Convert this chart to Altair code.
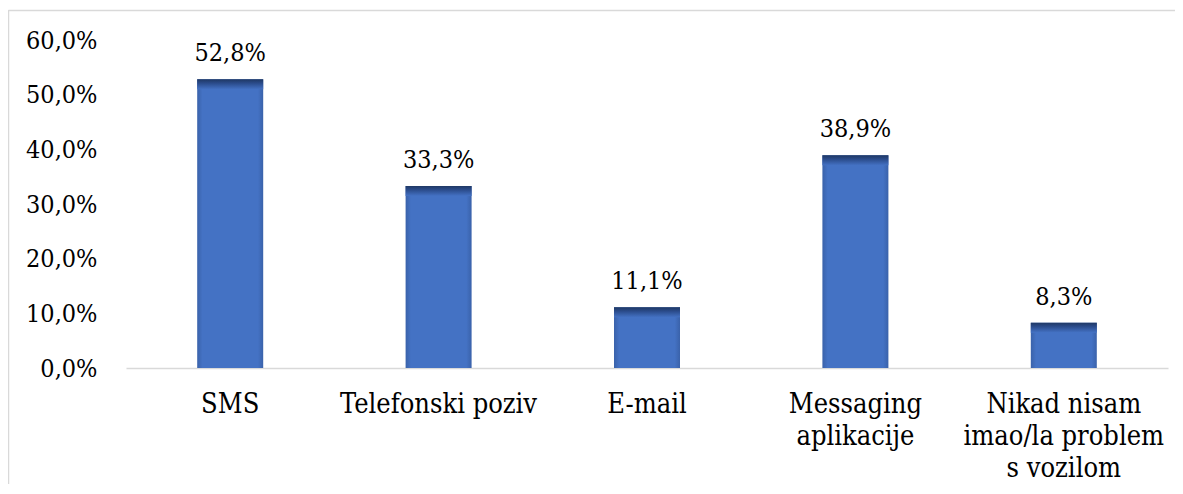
import altair as alt
import pandas as pd

categories = ["SMS", "Telefonski poziv", "E-mail", "Messaging|aplikacije", "Nikad nisam|imao/la problem|s vozilom"]
values = [52.8, 33.3, 11.1, 38.9, 8.3]
y_ticks = [0, 10, 20, 30, 40, 50, 60]

df = pd.DataFrame({"cat": categories, "val": values})
frame_df = pd.DataFrame({"k": [0]})

FONT = "DejaVu Serif Condensed"
FS = 25
W, H = 1042, 328
PAD_L, PAD_T, PAD_R, PAD_B = 118, 32, 7, 116

x_enc = alt.X("cat:N", sort=categories, title=None,
              axis=alt.Axis(labelAngle=0, labelExpr="split(datum.label, '|')",
                            labelFont=FONT, labelFontSize=27, labelColor="#000000",
                            labelLineHeight=32, labelBaseline="top", labelPadding=23,
                            ticks=False, domainColor="#D9D9D9", domainWidth=1.5,
                            labelLimit=400))
y_enc = alt.Y("val:Q", title=None,
              scale=alt.Scale(domain=[0, 60], nice=False),
              axis=alt.Axis(values=y_ticks, labelFont=FONT, labelFontSize=FS,
                            labelColor="#000000", labelPadding=29, ticks=False,
                            domain=False, grid=False,
                            labelExpr="replace(format(datum.value, '.1f'), '.', ',') + '%'"))

side_grad = alt.Gradient(gradient="linear", x1=0, y1=0, x2=1, y2=0,
                         stops=[alt.GradientStop(offset=0, color="#3A62AA"),
                                alt.GradientStop(offset=0.08, color="#4472C4"),
                                alt.GradientStop(offset=0.92, color="#4472C4"),
                                alt.GradientStop(offset=1, color="#3A62AA")])
top_grad = alt.Gradient(gradient="linear", x1=0, y1=0, x2=0, y2=1,
                        stops=[alt.GradientStop(offset=0, color="#1F3864"),
                               alt.GradientStop(offset=0.4, color="#2B4C8C"),
                               alt.GradientStop(offset=1, color="#4472C4")])

base = alt.Chart(df)
bars = base.mark_bar(size=66, color=side_grad).encode(x=x_enc, y=y_enc)
tops = base.mark_tick(orient="horizontal", thickness=10, size=66, yOffset=5,
                      color=top_grad, opacity=1).encode(x=x_enc, y=y_enc)
labels = base.transform_calculate(
    lab="replace(format(datum.val, '.1f'), '.', ',') + '%'"
).mark_text(font=FONT, fontSize=FS, color="#000000", baseline="alphabetic", dy=-18).encode(
    x=x_enc, y=y_enc, text="lab:N")

frame_left = alt.Chart(frame_df).mark_rule(color="#D9D9D9", strokeWidth=1.5).encode(
    x=alt.value(-117.5), y=alt.value(-30), y2=alt.value(H + PAD_B + 5))
frame_top = alt.Chart(frame_df).mark_rule(color="#D9D9D9", strokeWidth=1.5).encode(
    x=alt.value(-117.5), x2=alt.value(W + PAD_R + 20), y=alt.value(-29.5))

chart = alt.layer(bars, tops, labels, frame_left, frame_top).properties(
    width=W, height=H,
    padding={"left": PAD_L, "top": PAD_T, "right": PAD_R, "bottom": PAD_B},
    autosize=alt.AutoSizeParams(type="none"),
    background="#FFFFFF",
).configure_view(stroke=None)

chart.save("out.html", embed_options={"renderer": "svg", "actions": False})
